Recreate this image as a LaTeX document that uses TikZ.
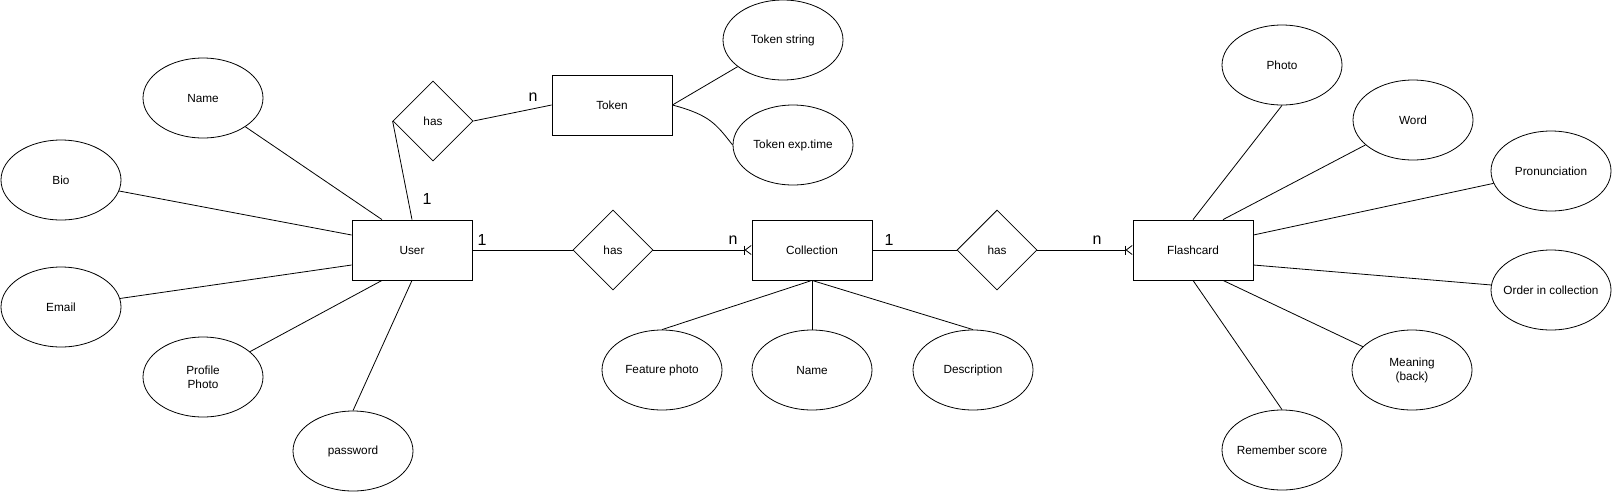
\documentclass[tikz,border=0pt]{standalone}
\usepackage{fontspec}
\setmainfont{Liberation Sans}
\usepackage{tikz}
\usetikzlibrary{arrows.meta,shapes,positioning}
\tikzstyle{edge}  =[line width=0.8pt]
\tikzstyle{many}  =[edge, -{Bar[width=9pt,sep=0pt]Straight Barb[reversed,length=6pt,width=9pt]}]
\tikzstyle{entity}=[draw, rectangle, minimum width=120pt, minimum height=60pt]
\tikzstyle{rel}   =[draw, diamond, minimum size=80pt, inner sep=0pt]
\tikzstyle{attr}  =[draw, ellipse, minimum width=120pt, minimum height=80pt,
                    inner sep=0pt, align=center]
\tikzstyle{card}  =[font=\fontsize{16}{18}\selectfont]

\begin{document}
\begin{tikzpicture}[x=1pt, y=-1pt, every node/.style = {line width=0.8pt,
        font=\fontsize{11.8}{14}\selectfont}, on grid, node distance = 120pt]
    \useasboundingbox (0,0) rectangle (1613,491);
    \node (user) [entity] at (412,250) {User};
    \node (hasC) [rel, right=201pt of user] {has};
    \node (coll) [entity, right=400pt of user] {Collection};
    \node (hasF) [rel, right=185pt of coll] {has};
    \node (flash) [entity, right=381pt of coll] {Flashcard};
    \node (hasT) [rel] at (433,121) {has};
    \node (token) [entity] at (612,105) {Token};
    \node (uname) [attr] at (203,98) {Name};
    \node (bio) [attr] at (61,180) {Bio};
    \node (email) [attr] at (61,307) {Email};
    \node (pphoto) [attr] at (203,377) {Profile\\Photo};
    \node (pwd) [attr] at (353,451) {password};
    \node (tstr) [attr] at (783,40) {Token string};
    \node (texp) [attr] at (793,145) {Token exp.time};
    \node (cname) [attr, below=of coll] {Name};
    \node (fphoto) [attr, left=150pt of cname] {Feature photo};
    \node (desc) [attr, right=161pt of cname] {Description};
    \node (photo) [attr] at (1282,65) {Photo};
    \node (word) [attr] at (1413,120) {Word};
    \node (pron) [attr] at (1551,171) {Pronunciation};
    \node (order) [attr, inner xsep=-8pt] at (1551,290) {Order in collection};
    \node (mean) [attr] at (1412,370) {Meaning\\(back)};
    \node (rem) [attr, inner xsep=-3pt] at (1282,450) {Remember score};
    \node (c1) [card] at (427,199) {1};
    \node (c2) [card] at (533,97) {n};
    \node (c3) [card] at (482,240) {1};
    \node (c4) [card] at (733,240) {n};
    \node (c5) [card] at (889,240) {1};
    \node (c6) [card] at (1097,240) {n};
    \draw[edge] (uname) -- ([xshift=-30pt]user.north);
    \draw[edge] (bio) -- ([yshift=15pt]user.west);
    \draw[edge] (email) -- ([yshift=-15pt]user.west);
    \draw[edge] (pphoto) -- ([xshift=-30pt]user.south);
    \draw[edge] (pwd.north) -- (user.south);
    \draw[edge] (user.north) -- (hasT.west);
    \draw[edge] (hasT.east) -- (token.west);
    \draw[edge] (token.east) -- (tstr);
    \draw[edge] (token.east) .. controls (710,115) and (716,124) .. (texp.west);
    \draw[edge] (user.east) -- (hasC.west);
    \draw[many] (hasC.east) -- (coll.west);
    \draw[edge] (coll.east) -- (hasF.west);
    \draw[many] (hasF.east) -- (flash.west);
    \foreach \a in {fphoto, cname, desc} \draw[edge] (coll.south) -- (\a.north);
    \draw[edge] (photo.south) -- (flash.north);
    \draw[edge] (word) -- ([xshift=30pt]flash.north);
    \draw[edge] (pron) -- ([yshift=15pt]flash.east);
    \draw[edge] (order) -- ([yshift=-15pt]flash.east);
    \draw[edge] (mean) -- ([xshift=30pt]flash.south);
    \draw[edge] (rem.north) -- (flash.south);
\end{tikzpicture}
\end{document}
